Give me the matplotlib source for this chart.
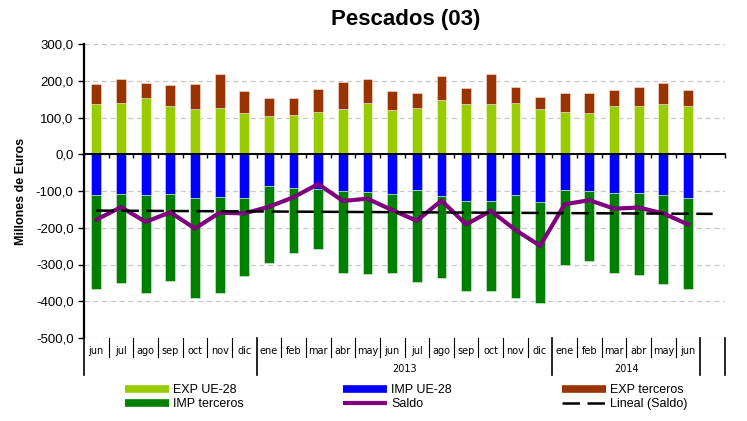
import numpy as np
import matplotlib
matplotlib.use("Agg")
import matplotlib.pyplot as plt
from matplotlib.lines import Line2D
from matplotlib.transforms import blended_transform_factory

# Datos (millones de euros), jun 2012 - jun 2014
meses = ['jun', 'jul', 'ago', 'sep', 'oct', 'nov', 'dic',
         'ene', 'feb', 'mar', 'abr', 'may', 'jun', 'jul', 'ago', 'sep', 'oct', 'nov', 'dic',
         'ene', 'feb', 'mar', 'abr', 'may', 'jun']
anios = ['', '2013', '2014']
limites_anios = [0, 7, 19, 25]

exp_ue = [136, 139, 154, 130, 123, 126, 112, 105, 108, 114, 123, 139, 120,
          126, 147, 136, 136, 139, 123, 114, 112, 130, 132, 136, 132]
exp_terceros = [54, 66, 39, 58, 67, 92, 59, 48, 45, 64, 73, 66, 51,
                40, 65, 45, 82, 45, 34, 52, 54, 45, 52, 57, 43]
imp_ue = [-111, -107, -111, -107, -118, -115, -120, -87, -91, -94, -101, -103, -109,
          -96, -114, -127, -127, -112, -130, -96, -101, -106, -106, -112, -118]
imp_terceros = [-257, -242, -266, -239, -274, -262, -212, -209, -179, -165, -222, -223, -214,
                -251, -224, -245, -245, -278, -276, -206, -190, -217, -223, -242, -248]
saldo = [-178, -144, -184, -158, -202, -159, -161, -143, -117, -81, -127, -121, -152,
         -181, -126, -191, -154, -206, -249, -136, -125, -148, -145, -161, -191]

yticks = [300, 200, 100, 0, -100, -200, -300, -400, -500]
ytick_labels = ['300,0', '200,0', '100,0', '0,0', '-100,0', '-200,0', '-300,0', '-400,0', '-500,0']

c_exp_ue = '#99CC00'
c_imp_ue = '#0000FF'
c_exp_ter = '#993300'
c_imp_ter = '#008000'
c_saldo = '#800080'

n_cat = len(meses) + 1  # hueco vacio al final
x = np.arange(len(meses))

fig = plt.figure(figsize=(7.47, 4.21), dpi=100)
ax = fig.add_axes([84 / 747, 1 - 338 / 421, 641 / 747, 294 / 421])

ancho = 0.4
borde = dict(edgecolor=(1, 1, 1, 0.5), linewidth=0.6)
ax.bar(x, exp_ue, ancho, color=c_exp_ue, zorder=2, **borde)
ax.bar(x, exp_terceros, ancho, bottom=exp_ue, color=c_exp_ter, zorder=2, **borde)
ax.bar(x, imp_ue, ancho, color=c_imp_ue, zorder=2, **borde)
ax.bar(x, imp_terceros, ancho, bottom=imp_ue, color=c_imp_ter, zorder=2, **borde)

ax.plot(x, saldo, color=c_saldo, lw=3.0, zorder=4, solid_joinstyle='miter')

# tendencia lineal del saldo
p = np.polyfit(x, saldo, 1)
xt = np.arange(n_cat)
ax.plot(xt, np.polyval(p, xt), color='black', lw=1.8, dashes=(7, 3), zorder=5)

ax.set_xlim(-0.5, n_cat - 0.5)
ax.set_ylim(-500, 300)
ax.set_yticks(yticks)
ax.set_yticklabels(ytick_labels, fontsize=9.5, family='Liberation Sans')
ax.tick_params(axis='y', direction='out', length=4, width=1)
ax.grid(axis='y', color='#c8c8c8', linestyle=(0, (4, 3)), lw=0.9, zorder=0)

for s in ['top', 'right']:
    ax.spines[s].set_visible(False)
ax.spines['left'].set_linewidth(1.6)
ax.spines['bottom'].set_position(('data', 0))
ax.spines['bottom'].set_linewidth(1.4)
ax.spines['bottom'].set_zorder(3)
ax.set_xticks(np.arange(n_cat + 1) - 0.5)
ax.set_xticklabels([])
ax.tick_params(axis='x', direction='out', length=3, width=1)

ax.set_ylabel('Millones de Euros', fontsize=9, fontweight='bold',
              family='Liberation Sans', labelpad=6)

# eje de categorias (meses / anios)
tr = blended_transform_factory(ax.transData, ax.transAxes)
for i, m in enumerate(meses):
    ax.text(i, -0.044, m, transform=tr, ha='center', va='center', fontsize=7, color='black')
for b in range(n_cat + 1):
    largo = b in limites_anios or b == n_cat
    ax.plot([b - 0.5, b - 0.5], [0, -0.126 if largo else -0.065], transform=tr,
            color='black', lw=1.2 if largo else 0.8, clip_on=False)
for k in range(len(anios)):
    if anios[k]:
        xc = (limites_anios[k] + limites_anios[k + 1]) / 2 - 0.5
        ax.text(xc, -0.105, anios[k], transform=tr, ha='center', va='center',
                fontsize=7, color='black')

fig.text(406 / 747, 1 - 20 / 421, 'Pescados (03)', ha='center', va='center',
         fontsize=16, fontweight='bold', family='Liberation Sans')

# leyenda en tres columnas
columnas = [
    [(Line2D([], [], color=c_exp_ue, lw=5.5, solid_capstyle='butt'), 'EXP UE-28'),
     (Line2D([], [], color=c_imp_ter, lw=5.5, solid_capstyle='butt'), 'IMP terceros')],
    [(Line2D([], [], color=c_imp_ue, lw=5.5, solid_capstyle='butt'), 'IMP UE-28'),
     (Line2D([], [], color=c_saldo, lw=3, solid_capstyle='butt'), 'Saldo')],
    [(Line2D([], [], color=c_exp_ter, lw=5.5, solid_capstyle='butt'), 'EXP terceros'),
     (Line2D([], [], color='black', lw=1.8, dashes=(7, 3)), 'Lineal (Saldo)')],
]
x_cols = [125, 343, 562]
for xc, col in zip(x_cols, columnas):
    leg = fig.legend([h for h, _ in col], [t for _, t in col],
                     loc='upper left', bbox_to_anchor=(xc / 747, 1 - 384 / 421),
                     frameon=False, handlelength=3.5, handletextpad=0.35,
                     labelspacing=0.15, borderpad=0, borderaxespad=0,
                     prop={'family': 'Liberation Sans', 'size': 9})

fig.savefig('out.png', dpi=100)
